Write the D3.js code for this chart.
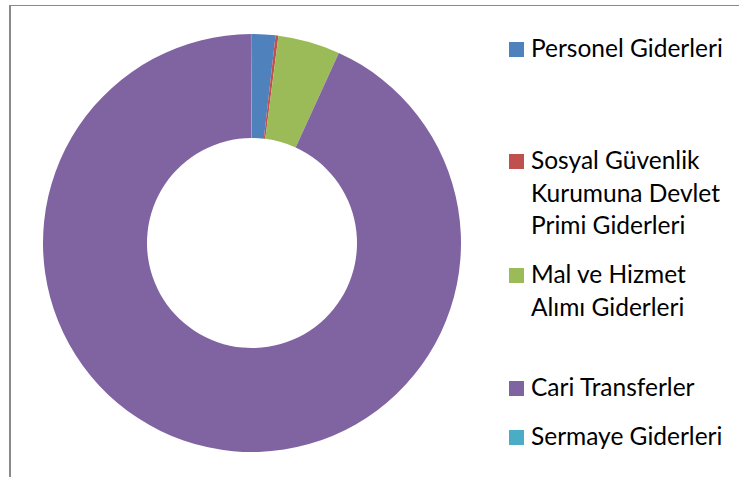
<!DOCTYPE html>
<html>
<head>
<meta charset="utf-8">
<script src="https://cdn.jsdelivr.net/npm/d3@7"></script>
<style>
  body { margin: 0; background: #fff; }
  svg { display: block; }
  .legend text { font-family: Lato, "Open Sans", sans-serif; font-size: 24.5px; fill: #000; }
</style>
</head>
<body>
<script>
'use strict'

// share of each expense type (percent)
var categories = ['Personel Giderleri', 'Sosyal Güvenlik Kurumuna Devlet Primi Giderleri',
  'Mal ve Hizmet Alımı Giderleri', 'Cari Transferler', 'Sermaye Giderleri']
var values = [1.8, 0.22, 4.8, 93.1, 0.08]
var legendLines = [
  ['Personel Giderleri'],
  ['Sosyal Güvenlik', 'Kurumuna Devlet', 'Primi Giderleri'],
  ['Mal ve Hizmet', 'Alımı Giderleri'],
  ['Cari Transferler'],
  ['Sermaye Giderleri']
]
var colors = ['#4F81BD', '#C0504D', '#9BBB59', '#8064A2', '#4BACC6']

var width = 743, height = 477
var cx = 252, cy = 243, outerR = 209, innerR = 105

var svg = d3.select('body').append('svg')
  .attr('width', width)
  .attr('height', height)

// chart frame (only top and left edges are visible)
svg.append('line')
  .attr('x1', 9).attr('y1', 5.5).attr('x2', 739).attr('y2', 5.5)
  .attr('stroke', '#8a8a8a').attr('stroke-width', 1)
svg.append('line')
  .attr('x1', 10).attr('y1', 5).attr('x2', 10).attr('y2', 477)
  .attr('stroke', '#8a8a8a').attr('stroke-width', 2)

var color = d3.scaleOrdinal().domain(categories).range(colors)

var pie = d3.pie().sort(null).value(function (d) { return d.value })
var arc = d3.arc().innerRadius(innerR).outerRadius(outerR)

var data = categories.map(function (c, i) { return { name: c, value: values[i] } })

var g = svg.append('g').attr('transform', 'translate(' + cx + ',' + cy + ')')
g.selectAll('path')
  .data(pie(data))
  .enter().append('path')
  .attr('d', arc)
  .attr('fill', function (d) { return color(d.data.name) })

// legend: baseline of first line for each entry
var legendY = [57, 169, 283, 396, 445]
var lineH = 32.5

var legend = svg.append('g').attr('class', 'legend')
  .selectAll('g')
  .data(data)
  .enter().append('g')
  .attr('transform', function (d, i) { return 'translate(509,' + legendY[i] + ')' })

legend.append('rect')
  .attr('x', 0).attr('y', -15)
  .attr('width', 15).attr('height', 15)
  .attr('fill', function (d) { return color(d.name) })

legend.append('text')
  .attr('x', 22)
  .selectAll('tspan')
  .data(function (d, i) { return legendLines[i] })
  .enter().append('tspan')
  .attr('x', 22)
  .attr('y', function (d, j) { return j * lineH })
  .text(function (d) { return d })
</script>
</body>
</html>
